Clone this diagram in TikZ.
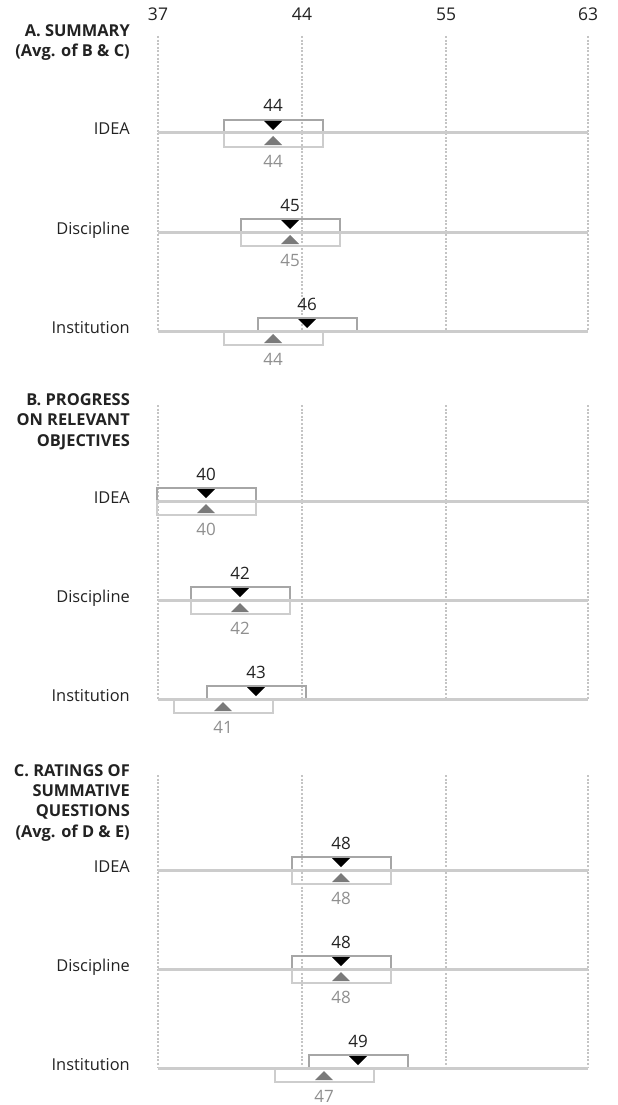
\documentclass[tikz,border=0pt]{standalone}
\usepackage{fontspec}
\setmainfont{Open Sans}
\usepackage{tikz}

\definecolor{textblack}{HTML}{222222}
\definecolor{gridgray}{HTML}{C4C4C4}
\definecolor{rowgray}{HTML}{CCCCCC}
\definecolor{hiboxgray}{HTML}{A6A6A6}
\definecolor{loboxgray}{HTML}{CDCDCD}
\definecolor{lomarkgray}{HTML}{7A7A7A}
\definecolor{lovalgray}{HTML}{8F8F8F}

\begin{document}
\begin{tikzpicture}[x=1pt, y=-1pt,
	gridline/.style={color=gridgray, line width=1.1pt, dash pattern=on 2pt off 1.6pt},
	rowline/.style={color=rowgray, line width=3pt},
	hibox/.style={color=hiboxgray, line width=1.6pt},
	lobox/.style={color=loboxgray, line width=1.6pt},
	himark/.style={color=black},
	lomark/.style={color=lomarkgray},
	tick/.style={anchor=base, inner sep=0, text=textblack, font=\fontsize{17.5}{20}\selectfont},
	heading/.style={anchor=north east, align=right, inner sep=0, text=textblack, font=\bfseries\fontsize{16.4}{20.3}\selectfont},
	cat/.style={anchor=base east, inner sep=0, text=textblack, font=\fontsize{16.4}{19}\selectfont},
	hival/.style={anchor=base, inner sep=0, text=textblack, font=\fontsize{17}{19}\selectfont},
	loval/.style={anchor=base, inner sep=0, text=lovalgray, font=\fontsize{17}{19}\selectfont}]
	\useasboundingbox (0,0) rectangle (618,1105);

	% Scale values on top
	\node[tick] (t37) at (158,20.5) {37};
	\node[tick] (t44) at (302,20.5) {44};
	\node[tick] (t55) at (446,20.5) {55};
	\node[tick] (t63) at (588,20.5) {63};

	% Section headings
	\node[heading] (hA) at (130,24.5) {A. SUMMARY\\(Avg. of B \& C)};
	\node[heading] (hB) at (130,393.5) {B. PROGRESS\\ON RELEVANT\\OBJECTIVES};
	\node[heading] (hC) at (130,764) {C. RATINGS OF\\SUMMATIVE\\QUESTIONS\\(Avg. of D \& E)};

	% Dotted lines at the scale values
	\draw[gridline] (158,36) -- (158,331);
	\draw[gridline] (302,36) -- (302,331);
	\draw[gridline] (446,36) -- (446,331);
	\draw[gridline] (588,36) -- (588,331);
	\draw[gridline] (158,405) -- (158,699);
	\draw[gridline] (302,405) -- (302,699);
	\draw[gridline] (446,405) -- (446,699);
	\draw[gridline] (588,405) -- (588,699);
	\draw[gridline] (158,775) -- (158,1068);
	\draw[gridline] (302,775) -- (302,1068);
	\draw[gridline] (446,775) -- (446,1068);
	\draw[gridline] (588,775) -- (588,1068);

	% A. IDEA
	\node[cat] (aIdea) at (130,135) {IDEA};
	\draw[hibox] (224,120) rectangle (323,133);
	\draw[lobox] (224,133) rectangle (323,147);
	\draw[rowline] (158,133) -- (588,133);
	\fill[himark] (264,121) -- (282,121) -- (273,130) -- cycle;
	\fill[lomark] (264,145) -- (282,145) -- (273,136) -- cycle;
	\node[hival] (aIdeaHi) at (273,112) {44};
	\node[loval] (aIdeaLo) at (273,167.5) {44};

	% A. Discipline
	\node[cat] (aDisc) at (130,234) {Discipline};
	\draw[hibox] (241,219) rectangle (340,232);
	\draw[lobox] (241,232) rectangle (340,246);
	\draw[rowline] (158,232) -- (588,232);
	\fill[himark] (281,220) -- (299,220) -- (290,229) -- cycle;
	\fill[lomark] (281,244) -- (299,244) -- (290,235) -- cycle;
	\node[hival] (aDiscHi) at (290,211) {45};
	\node[loval] (aDiscLo) at (290,266.5) {45};

	% A. Institution
	\node[cat] (aInst) at (130,333) {Institution};
	\draw[hibox] (258,318) rectangle (357,331);
	\draw[lobox] (224,331) rectangle (323,345);
	\draw[rowline] (158,331) -- (588,331);
	\fill[himark] (298,319) -- (316,319) -- (307,328) -- cycle;
	\fill[lomark] (264,343) -- (282,343) -- (273,334) -- cycle;
	\node[hival] (aInstHi) at (307,310) {46};
	\node[loval] (aInstLo) at (273,365.5) {44};

	% B. IDEA
	\node[cat] (bIdea) at (130,503) {IDEA};
	\draw[hibox] (157,488) rectangle (256,501);
	\draw[lobox] (157,501) rectangle (256,515);
	\draw[rowline] (158,501) -- (588,501);
	\fill[himark] (197,489) -- (215,489) -- (206,498) -- cycle;
	\fill[lomark] (197,513) -- (215,513) -- (206,504) -- cycle;
	\node[hival] (bIdeaHi) at (206,480) {40};
	\node[loval] (bIdeaLo) at (206,535.5) {40};

	% B. Discipline
	\node[cat] (bDisc) at (130,602) {Discipline};
	\draw[hibox] (191,587) rectangle (290,600);
	\draw[lobox] (191,600) rectangle (290,614);
	\draw[rowline] (158,600) -- (588,600);
	\fill[himark] (231,588) -- (249,588) -- (240,597) -- cycle;
	\fill[lomark] (231,612) -- (249,612) -- (240,603) -- cycle;
	\node[hival] (bDiscHi) at (240,579) {42};
	\node[loval] (bDiscLo) at (240,634.5) {42};

	% B. Institution
	\node[cat] (bInst) at (130,701) {Institution};
	\draw[hibox] (207,686) rectangle (306,699);
	\draw[lobox] (174,699) rectangle (273,713);
	\draw[rowline] (158,699) -- (588,699);
	\fill[himark] (247,687) -- (265,687) -- (256,696) -- cycle;
	\fill[lomark] (214,711) -- (232,711) -- (223,702) -- cycle;
	\node[hival] (bInstHi) at (256,678) {43};
	\node[loval] (bInstLo) at (223,733.5) {41};

	% C. IDEA
	\node[cat] (cIdea) at (130,872) {IDEA};
	\draw[hibox] (292,857) rectangle (391,870);
	\draw[lobox] (292,870) rectangle (391,884);
	\draw[rowline] (158,870) -- (588,870);
	\fill[himark] (332,858) -- (350,858) -- (341,867) -- cycle;
	\fill[lomark] (332,882) -- (350,882) -- (341,873) -- cycle;
	\node[hival] (cIdeaHi) at (341,849) {48};
	\node[loval] (cIdeaLo) at (341,904.5) {48};

	% C. Discipline
	\node[cat] (cDisc) at (130,971) {Discipline};
	\draw[hibox] (292,956) rectangle (391,969);
	\draw[lobox] (292,969) rectangle (391,983);
	\draw[rowline] (158,969) -- (588,969);
	\fill[himark] (332,957) -- (350,957) -- (341,966) -- cycle;
	\fill[lomark] (332,981) -- (350,981) -- (341,972) -- cycle;
	\node[hival] (cDiscHi) at (341,948) {48};
	\node[loval] (cDiscLo) at (341,1003.5) {48};

	% C. Institution
	\node[cat] (cInst) at (130,1070) {Institution};
	\draw[hibox] (309,1055) rectangle (408,1068);
	\draw[lobox] (275,1068) rectangle (374,1082);
	\draw[rowline] (158,1068) -- (588,1068);
	\fill[himark] (349,1056) -- (367,1056) -- (358,1065) -- cycle;
	\fill[lomark] (315,1080) -- (333,1080) -- (324,1071) -- cycle;
	\node[hival] (cInstHi) at (358,1047) {49};
	\node[loval] (cInstLo) at (324,1102.5) {47};
\end{tikzpicture}
\end{document}
